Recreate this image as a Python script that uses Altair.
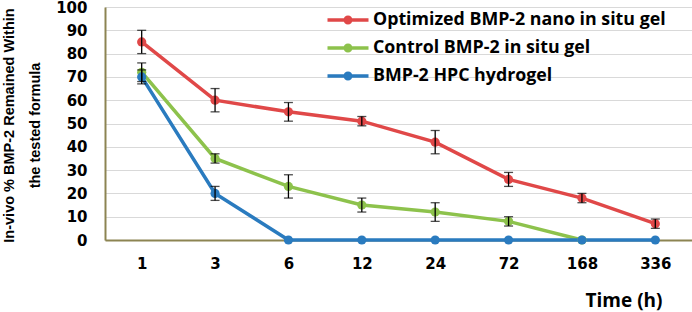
import altair as alt
import pandas as pd

times = ["1", "3", "6", "12", "24", "72", "168", "336"]
series = ["Optimized BMP-2 nano in situ gel", "Control BMP-2 in situ gel", "BMP-2 HPC hydrogel"]
colors = ["#e04848", "#8dc24c", "#2a7bbf"]

opt_vals = [85, 60, 55, 51, 42, 26, 18, 7]
opt_err = [5, 5, 4, 2, 5, 3, 2, 2]
ctrl_vals = [72, 35, 23, 15, 12, 8, 0]
ctrl_err = [4, 2, 5, 3, 4, 2, 0]
hpc_vals = [70, 20, 0, 0, 0, 0, 0, 0]
hpc_err = [3, 3, 0, 0, 0, 0, 0, 0]
yticks = [0, 10, 20, 30, 40, 50, 60, 70, 80, 90, 100]

rows = []
for s, vals, errs in [(series[0], opt_vals, opt_err), (series[1], ctrl_vals, ctrl_err), (series[2], hpc_vals, hpc_err)]:
    for t, v, e in zip(times, vals, errs):
        rows.append({"series": s, "time": t, "value": v, "err": e, "lo": v - e, "hi": v + e})
df = pd.DataFrame(rows)
err_df = df[df["err"] > 0]

ytitle = ["In-vivo % BMP-2 Remained Within", "the tested formula"]
xtitle = "Time (h)"

olive = "#8c8452"

xaxis = alt.Axis(
    labelAngle=0, ticks=False, grid=False, domainColor=olive, domainWidth=2,
    labelFont="DejaVu Sans", labelFontWeight="bold", labelFontSize=15, labelColor="black",
    labelPadding=16,
    titleFont="Open Sans", titleFontWeight="bold", titleFontSize=19, titleColor="black",
    titleAnchor="end", titleAlign="right", titleBaseline="alphabetic", titleX=557, titleY=66,
)
xscale = alt.Scale(type="point", padding=0.5)
yscale = alt.Scale(domain=[0, 100])
yaxis = alt.Axis(
    values=yticks, ticks=False, grid=True, gridColor="#d9d9d9", gridWidth=1,
    domainColor=olive, domainWidth=2, labelOverlap=False,
    labelFont="DejaVu Sans", labelFontWeight="bold", labelFontSize=15, labelColor="black",
    labelPadding=18,
    titleFont="Liberation Sans", titleFontWeight="bold", titleFontSize=14.5, titleColor="black",
    titleAngle=-90, titleAlign="center", titleBaseline="top", titleX=-103, titleY=118,
    titleLineHeight=26,
)

def X():
    return alt.X("time:N", sort=times, title=xtitle, scale=xscale, axis=xaxis)

def Y(field):
    return alt.Y(field, scale=yscale, axis=yaxis, title=ytitle)

sym_path = ("M-2.05,-0.175L2.05,-0.175L2.05,0.175L-2.05,0.175Z "
            "M0.45,0A0.45,0.45 0 1,1 -0.45,0A0.45,0.45 0 1,1 0.45,0Z")

cenc = alt.Color(
    "series:N", sort=series, scale=alt.Scale(domain=series, range=colors),
    legend=alt.Legend(
        title=None, orient="none", legendX=233, legendY=3,
        symbolType=sym_path, symbolSize=400, symbolStrokeWidth=0,
        labelFont="Open Sans", labelFontWeight="bold", labelFontSize=17.8, labelColor="black",
        labelOffset=15, rowPadding=9, padding=0, labelLimit=500,
    ),
)

base = alt.Chart(df).encode(x=X(), y=Y("value:Q"), color=cenc)
line = base.mark_line(strokeWidth=3.5)
points = base.mark_point(filled=True, size=85, opacity=1)

ebase = alt.Chart(err_df).encode(x=X())
rules = ebase.mark_rule(color="black", strokeWidth=1.3).encode(y=Y("lo:Q"), y2="hi:Q")
tlo = ebase.mark_tick(color="black", thickness=1.3, size=9).encode(y=Y("lo:Q"))
thi = ebase.mark_tick(color="black", thickness=1.3, size=9).encode(y=Y("hi:Q"))

chart = alt.layer(line, points, rules, tlo, thi).properties(
    width=587, height=233,
    autosize=alt.AutoSizeParams(type="none"),
    padding={"left": 105, "top": 7, "right": 0, "bottom": 72},
).configure_view(stroke=None).configure(background="white")

chart.save("out.html", embed_options={"renderer": "svg", "actions": False})
